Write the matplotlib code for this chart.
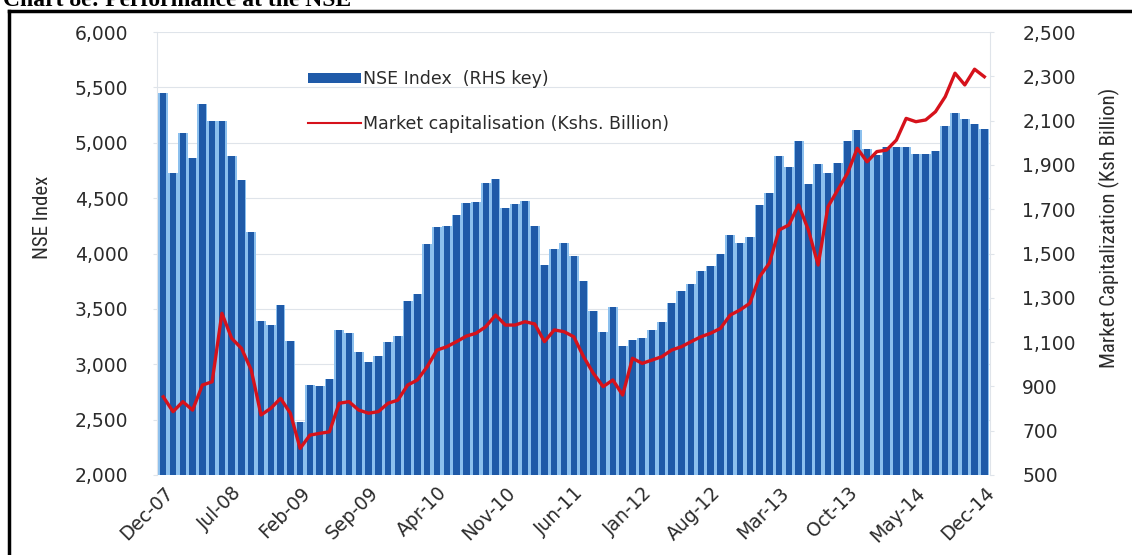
import matplotlib
matplotlib.use("Agg")
import matplotlib.pyplot as plt
from matplotlib.lines import Line2D
from matplotlib.patches import Patch
from matplotlib import font_manager
import numpy as np

# --------------------------
# data (monthly, Dec-07 .. Dec-14)
months = ["Dec-07", "Jan-08", "Feb-08", "Mar-08", "Apr-08", "May-08", "Jun-08",
          "Jul-08", "Aug-08", "Sep-08", "Oct-08", "Nov-08", "Dec-08", "Jan-09",
          "Feb-09", "Mar-09", "Apr-09", "May-09", "Jun-09", "Jul-09", "Aug-09",
          "Sep-09", "Oct-09", "Nov-09", "Dec-09", "Jan-10", "Feb-10", "Mar-10",
          "Apr-10", "May-10", "Jun-10", "Jul-10", "Aug-10", "Sep-10", "Oct-10",
          "Nov-10", "Dec-10", "Jan-11", "Feb-11", "Mar-11", "Apr-11", "May-11",
          "Jun-11", "Jul-11", "Aug-11", "Sep-11", "Oct-11", "Nov-11", "Dec-11",
          "Jan-12", "Feb-12", "Mar-12", "Apr-12", "May-12", "Jun-12", "Jul-12",
          "Aug-12", "Sep-12", "Oct-12", "Nov-12", "Dec-12", "Jan-13", "Feb-13",
          "Mar-13", "Apr-13", "May-13", "Jun-13", "Jul-13", "Aug-13", "Sep-13",
          "Oct-13", "Nov-13", "Dec-13", "Jan-14", "Feb-14", "Mar-14", "Apr-14",
          "May-14", "Jun-14", "Jul-14", "Aug-14", "Sep-14", "Oct-14", "Nov-14",
          "Dec-14"]

nse_index = [5445, 4724, 5085, 4859, 5347, 5196, 5196, 4883, 4664, 4197,
             3390, 3354, 3535, 3210, 2481, 2812, 2806, 2864, 3309, 3285,
             3113, 3017, 3074, 3204, 3258, 3571, 3634, 4083, 4242, 4251,
             4347, 4453, 4468, 4640, 4673, 4408, 4447, 4477, 4251, 3896,
             4038, 4092, 3980, 3751, 3481, 3294, 3520, 3165, 3219, 3234,
             3309, 3384, 3556, 3664, 3722, 3845, 3887, 3992, 4167, 4097,
             4146, 4438, 4543, 4880, 4784, 5019, 4625, 4808, 4724, 4820,
             5019, 5115, 4941, 4889, 4959, 4965, 4965, 4898, 4898, 4925,
             5151, 5272, 5212, 5169, 5121]

market_cap = [853, 786, 831, 793, 906, 921, 1230, 1117, 1072, 974,
              771, 801, 846, 779, 620, 680, 688, 695, 824, 831,
              793, 779, 786, 824, 838, 906, 929, 989, 1064, 1079,
              1102, 1127, 1140, 1170, 1222, 1177, 1177, 1192, 1182, 1102,
              1155, 1147, 1124, 1034, 959, 899, 929, 861, 1027, 1004,
              1019, 1034, 1064, 1079, 1102, 1124, 1140, 1162, 1222, 1245,
              1275, 1395, 1456, 1606, 1629, 1719, 1606, 1448, 1711, 1787,
              1862, 1975, 1914, 1960, 1967, 2012, 2110, 2095, 2103, 2140,
              2208, 2314, 2261, 2332, 2298]

left_ticks = [2000, 2500, 3000, 3500, 4000, 4500, 5000, 5500, 6000]
right_ticks = [500, 700, 900, 1100, 1300, 1500, 1700, 1900, 2100, 2300, 2500]

dark_blue = "#1f5aa8"
light_blue = "#8cc0ee"
red = "#d6121b"
txt = "#2b2b2b"

plt.rcParams["font.family"] = ["DejaVu Sans"]

# narrow face for the axis titles, if one is around
names = {f.name for f in font_manager.fontManager.ttflist}
narrow_face = None
for cand in ["Liberation Sans Narrow", "DejaVu Sans Condensed", "Roboto Condensed",
             "Open Sans Condensed"]:
    if cand in names:
        narrow_face = cand
        break
if narrow_face is None:
    narrow_kw = dict(family="DejaVu Sans", fontsize=12.5)
else:
    narrow_kw = dict(family=narrow_face, fontsize=15)

fig = plt.figure(figsize=(11.32, 5.55), dpi=100)
ax = fig.add_axes([157.4 / 1132, 1 - 475 / 555, (990.2 - 157.4) / 1132, 443 / 555])
ax2 = ax.twinx()

x = np.arange(len(months))
# light stripes between bars, then the dark bar on top
ax.bar(x, nse_index, width=1.0, color=light_blue, zorder=2)
ax.bar(x, nse_index, width=0.66, color=dark_blue, zorder=3)

ax2.plot(x, market_cap, color=red, lw=2.4, zorder=4)

ax.set_xlim(-0.6, len(months) - 0.4)
ax.set_ylim(2000, 6000)
ax2.set_ylim(500, 2500)

ax.set_yticks(left_ticks)
ax.set_yticklabels([f"{v:,}" for v in left_ticks], fontsize=13.5, color=txt)
ax2.set_yticks(right_ticks)
ax2.set_yticklabels([f"{v:,}" for v in right_ticks], fontsize=13.5, color=txt)

ax.set_xticks(x[::7])
ax.set_xticklabels(months[::7], rotation=45, ha="right", va="top",
                   rotation_mode="anchor", fontsize=13.5, color=txt)

ax.grid(axis="y", color="#dfe4ea", lw=0.8, zorder=0)
ax.set_axisbelow(True)

for a in (ax, ax2):
    for s in a.spines.values():
        s.set_visible(False)
ax.spines["left"].set_visible(True)
ax.spines["left"].set_color("#dfe4ea")
ax2.spines["right"].set_visible(True)
ax2.spines["right"].set_color("#dfe4ea")

ax.tick_params(axis="y", length=3, color="#dfe4ea", pad=18)
ax2.tick_params(axis="y", length=3, color="#dfe4ea", pad=20)
ax.tick_params(axis="x", length=0, pad=6)

ax.set_ylabel("NSE Index", color=txt, **narrow_kw)
ax2.set_ylabel("Market Capitalization (Ksh Billion)", color=txt, **narrow_kw)
ax.yaxis.set_label_coords(-0.127, 0.582)
ax2.yaxis.set_label_coords(1.130, 0.558)

handles = [Patch(facecolor=dark_blue), Line2D([0], [0], color=red, lw=1.5)]
labels = ["NSE Index  (RHS key)", "Market capitalisation (Kshs. Billion)"]
ax2.legend(handles, labels, loc="upper left", bbox_to_anchor=(0.171, 0.934),
           frameon=False, fontsize=12.5, handlelength=3.0, handleheight=0.55,
           handletextpad=0.15, labelspacing=1.55, borderpad=0, labelcolor=txt)

# outer frame of the figure box and the clipped caption above it
fig.add_artist(Line2D([9 / 1132, 9 / 1132], [-0.1, 1 - 11 / 555], color="black",
                      lw=2.5, transform=fig.transFigure))
fig.add_artist(Line2D([9 / 1132, 1.1], [1 - 11 / 555, 1 - 11 / 555], color="black",
                      lw=2.5, transform=fig.transFigure))
fig.text(0.003, 1.0, "Chart 8e: Performance at the NSE", family="Liberation Serif",
         fontweight="bold", fontsize=17, va="center", ha="left")

fig.savefig("out.png", dpi=100)
